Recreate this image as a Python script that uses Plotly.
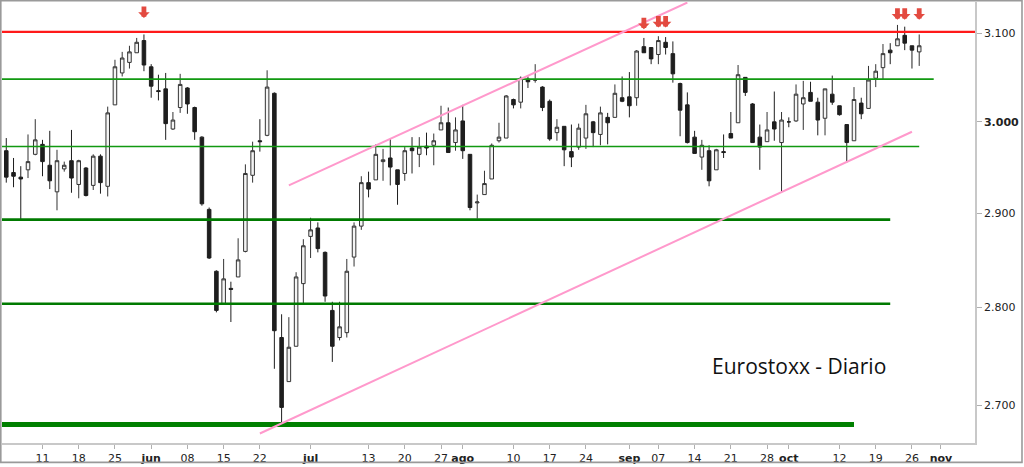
import pandas as pd
import numpy as np
import plotly.graph_objects as go

# ---------------- data ----------------
start_date = "2016-05-04"
end_date = "2016-10-27"
dates = pd.bdate_range(start_date, end_date)

open_ = [2968, 2944, 2939, 2947, 2964, 2975, 2952, 2923, 2948, 2957,
         2931, 2949, 2930, 2962, 2929, 3019, 3055, 3067, 3078, 3092,
         3062, 3035, 3037, 2992, 3016, 3038, 3016, 2983, 2904, 2838,
         2804, 2820, 2832, 2859, 2941, 2979, 2985, 3032, 2769, 2724,
         2760, 2825, 2875, 2884, 2858, 2797, 2769, 2774, 2853, 2886,
         2933, 2936, 2956, 2960, 2947, 2943, 2971, 2964, 2973, 2974,
         2991, 2999, 2977, 3001, 2964, 2911, 2920, 2937, 2979, 2982,
         3025, 3022, 3048, 3047, 3039, 3023, 2988, 2995, 2967, 2972,
         2982, 3000, 2986, 3005, 3005, 3027, 3028, 3027, 3085, 3084,
         3076, 3090, 3077, 3043, 3019, 2983, 2961, 2968, 2947, 2967,
         2987, 2999, 3050, 3020, 2983, 2978, 3000, 2977, 3000, 3001,
         3020, 3033, 3022, 3004, 3031, 3018, 2997, 2979, 3021, 3015,
         3049, 3061, 3081, 3086, 3098, 3086, 3079]
high = [2982, 2960, 2951, 2986, 3003, 2980, 2990, 2969, 2956, 2991,
        2958, 2950, 2964, 2964, 3017, 3070, 3079, 3086, 3095, 3099,
        3065, 3053, 3055, 3011, 3054, 3039, 3017, 2984, 2906, 2839,
        2851, 2827, 2873, 2953, 2978, 3003, 3058, 3033, 2793, 2790,
        2837, 2872, 2895, 2890, 2859, 2806, 2806, 2851, 2890, 2940,
        2945, 2975, 2970, 2981, 2947, 2972, 2983, 2983, 2988, 2987,
        3018, 3016, 3005, 3019, 2964, 2920, 2946, 2976, 2999, 3030,
        3026, 3051, 3051, 3065, 3040, 3025, 3003, 2995, 2997, 2998,
        3019, 3001, 3017, 3010, 3042, 3051, 3056, 3081, 3095, 3084,
        3097, 3096, 3091, 3044, 3033, 2990, 2980, 2974, 2970, 2986,
        3011, 3064, 3050, 3021, 2997, 3011, 3034, 3011, 3005, 3042,
        3046, 3045, 3027, 3037, 3052, 3018, 2997, 3039, 3027, 3063,
        3065, 3088, 3089, 3110, 3108, 3086, 3099]
low = [2933, 2928, 2893, 2938, 2963, 2940, 2926, 2903, 2945, 2922,
       2916, 2918, 2925, 2921, 2918, 3019, 3051, 3060, 3078, 3057,
       3027, 3024, 2980, 2991, 3010, 3009, 2980, 2908, 2851, 2795,
       2804, 2785, 2832, 2858, 2933, 2967, 2984, 2737, 2681, 2724,
       2760, 2804, 2852, 2858, 2806, 2744, 2766, 2769, 2843, 2882,
       2917, 2936, 2935, 2930, 2909, 2935, 2943, 2950, 2963, 2952,
       2991, 2966, 2968, 2959, 2903, 2894, 2920, 2937, 2977, 2982,
       3015, 3015, 3038, 3044, 3012, 2979, 2979, 2951, 2950, 2969,
       2970, 2972, 2974, 2975, 3005, 3022, 3005, 3018, 3078, 3065,
       3065, 3076, 3044, 2984, 2976, 2965, 2947, 2929, 2947, 2960,
       2982, 2999, 3029, 2977, 2947, 2978, 2979, 2923, 2994, 3000,
       2991, 3023, 2985, 2985, 3019, 3007, 2955, 2979, 3003, 3015,
       3039, 3048, 3065, 3086, 3081, 3060, 3063]
close = [2939, 2940, 2937, 2956, 2980, 2956, 2935, 2957, 2952, 2938,
         2957, 2919, 2962, 2933, 3010, 3062, 3072, 3079, 3090, 3064,
         3040, 3034, 2998, 3002, 3042, 3020, 2989, 2910, 2852, 2797,
         2830, 2819, 2850, 2943, 2968, 2978, 3039, 2776, 2698, 2759,
         2832, 2865, 2882, 2862, 2812, 2760, 2780, 2838, 2886, 2933,
         2926, 2964, 2958, 2950, 2931, 2968, 2968, 2972, 2971, 2979,
         2999, 2966, 2991, 2968, 2906, 2912, 2932, 2974, 2983, 3029,
         3019, 3049, 3045, 3047, 3016, 2981, 2994, 2969, 2961, 2993,
         3009, 2988, 3010, 2999, 3032, 3023, 3018, 3080, 3078, 3071,
         3092, 3084, 3054, 3013, 2977, 2965, 2974, 2935, 2969, 2966,
         2982, 3053, 3033, 2977, 2972, 2991, 2992, 3002, 3000, 3031,
         3027, 3023, 3002, 3037, 3022, 3008, 2977, 3025, 3009, 3047,
         3057, 3077, 3078, 3094, 3089, 3081, 3086]

tick_dates = ["2016-05-11", "2016-05-18", "2016-05-25", "2016-06-01", "2016-06-08",
              "2016-06-15", "2016-06-22", "2016-07-01", "2016-07-13", "2016-07-20",
              "2016-07-27", "2016-08-01", "2016-08-10", "2016-08-17", "2016-08-24",
              "2016-09-01", "2016-09-07", "2016-09-14", "2016-09-21", "2016-09-28",
              "2016-10-03", "2016-10-12", "2016-10-19", "2016-10-26", "2016-11-01"]
tick_labels = ["11", "18", "25", "<b>jun</b>", "08", "15", "22", "<b>jul</b>", "13", "20",
               "27", "<b>ago</b>", "10", "17", "24", "<b>sep</b>", "07", "14", "21", "28",
               "<b>oct</b>", "12", "19", "26", "<b>nov</b>"]

y_ticks = [2700, 2800, 2900, 3000, 3100]
y_tick_labels = ["2.700", "2.800", "2.900", "<b>3.000</b>", "3.100"]

# horizontal levels
red_level = 3102
green_levels = [3048, 2972.6, 2893, 2804, 2681]
green_ends = ["2016-10-31", "2016-10-27", "2016-10-21", "2016-10-21", "2016-10-14"]
green_widths = [1.6, 1.6, 2.6, 2.6, 5]
green_colors = ["#119911", "#119911", "#007a00", "#007a00", "#008000"]

# trend channel lines: (date, value) pairs
upper_trend_dates = ["2016-06-28", "2016-09-13"]
upper_trend_vals = [2930, 3136]
lower_trend_dates = ["2016-06-22", "2016-10-26"]
lower_trend_vals = [2672, 2989]

# red arrows above selected candles
arrow_dates = ["2016-05-31", "2016-09-05", "2016-09-07", "2016-09-08",
               "2016-10-24", "2016-10-25", "2016-10-27"]
arrow_vals = [3118, 3105, 3107, 3107, 3116, 3116, 3116]

# ---------------- positions (trading-day index) ----------------
all_days = pd.bdate_range(start_date, "2016-11-30")
pos = {d.strftime("%Y-%m-%d"): i for i, d in enumerate(all_days)}
x = [pos[d.strftime("%Y-%m-%d")] for d in dates]
tickvals = [pos[d] for d in tick_dates]

fig = go.Figure()

x_lo, x_hi = -0.59, 133.7

fig.add_trace(go.Scatter(x=[x_lo, x_hi], y=[red_level, red_level], mode="lines",
                         line=dict(color="#ff1a1a", width=2.4), hoverinfo="skip", showlegend=False))
for v, e, c, w in zip(green_levels, green_ends, green_colors, green_widths):
    fig.add_trace(go.Scatter(x=[x_lo, pos[e]], y=[v, v], mode="lines",
                             line=dict(color=c, width=w), hoverinfo="skip", showlegend=False))

for tds, tvs in [(upper_trend_dates, upper_trend_vals), (lower_trend_dates, lower_trend_vals)]:
    fig.add_trace(go.Scatter(x=[pos[d] for d in tds], y=tvs, mode="lines",
                             line=dict(color="#ff99cc", width=2), hoverinfo="skip", showlegend=False))

fig.add_trace(go.Candlestick(
    x=x, open=open_, high=high, low=low, close=close,
    increasing=dict(fillcolor="#f4f4f4", line=dict(color="#333333", width=1)),
    decreasing=dict(fillcolor="#1e1e1e", line=dict(color="#1e1e1e", width=1)),
    whiskerwidth=0, showlegend=False))

for d, v in zip(arrow_dates, arrow_vals):
    fig.add_annotation(x=pos[d], y=np.log10(v), xref="x", yref="y", ax=0, ay=-13,
                       showarrow=True, arrowhead=1, arrowsize=0.4, arrowwidth=4.8,
                       arrowcolor="#e34a40", text="")

fig.add_annotation(x=(799 - 2) / 973, y=(446 - 368) / 444, xref="paper", yref="paper",
                   xanchor="center", yanchor="middle",
                   text="Eurostoxx - Diario", showarrow=False,
                   font=dict(family="Open Sans", size=21, color="#111111"))

# outer frame
W, H = 973, 444
fig.add_shape(type="rect", xref="paper", yref="paper",
              x0=(0.8 - 2) / W, x1=(1022 - 2) / W, y0=(446 - 465.5) / H, y1=(446 - 0.8) / H,
              line=dict(color="#9a9a9a", width=1.6), fillcolor="rgba(0,0,0,0)", layer="above")

fig.update_layout(
    width=1024, height=467,
    margin=dict(l=2, r=49, t=2, b=21),
    paper_bgcolor="white", plot_bgcolor="white",
    font=dict(family="DejaVu Sans", size=11, color="#222222"),
    xaxis=dict(range=[x_lo, x_hi], tickmode="array", tickvals=tickvals, ticktext=tick_labels,
               showgrid=False, zeroline=False, showline=True, linecolor="#c8c8c8", linewidth=1.5,
               ticks="outside", ticklen=4, tickcolor="#b0b0b0", tickwidth=1,
               rangeslider=dict(visible=False), tickfont=dict(size=11, color="#222222")),
    yaxis=dict(type="log", range=[3.42530, 3.49646], side="right", tickmode="array",
               tickvals=y_ticks, ticktext=y_tick_labels, showgrid=False, zeroline=False,
               showline=True, linecolor="#c8c8c8", linewidth=1.5, ticks="outside", ticklen=5,
               tickcolor="#b0b0b0", tickfont=dict(size=11, color="#222222")),
)

fig.write_html("out.html")
